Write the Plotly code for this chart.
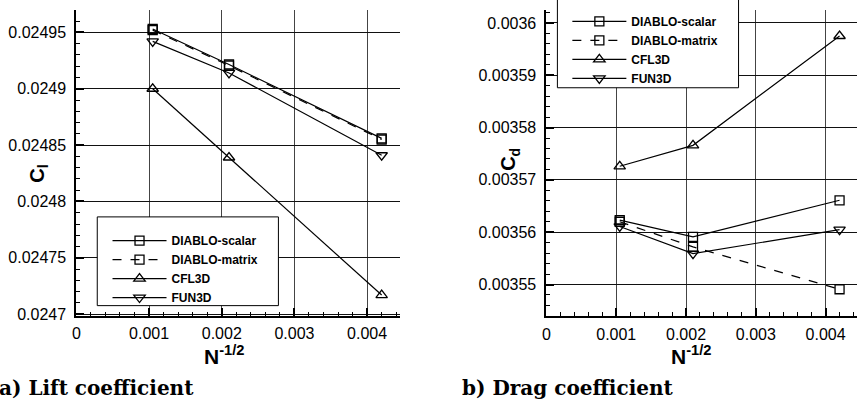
import plotly.graph_objects as go

W, H = 857, 406

# Grid resolution parameter N^-1/2 for the three meshes
n_inv_sqrt = [0.00105, 0.0021, 0.0042]

# Lift coefficient
cl_diablo_scalar = [0.024953, 0.0249215, 0.024856]
cl_diablo_matrix = [0.024952, 0.0249205, 0.024855]
cl_cfl3d = [0.024900, 0.024839, 0.024717]
cl_fun3d = [0.024942, 0.024914, 0.024841]

# Drag coefficient
cd_diablo_scalar = [0.0035623, 0.0035591, 0.0035661]
cd_diablo_matrix = [0.0035620, 0.0035572, 0.0035491]
cd_cfl3d = [0.0035726, 0.0035766, 0.0035975]
cd_fun3d = [0.0035611, 0.0035559, 0.0035605]

series_names = ["DIABLO-scalar", "DIABLO-matrix", "CFL3D", "FUN3D"]
series_dash = ["solid", "dash", "solid", "solid"]
series_symbol = ["square-open", "square-open", "triangle-up-open", "triangle-down-open"]
series_size = [9, 9, 10, 10]

x_tickvals = [0, 0.001, 0.002, 0.003, 0.004]
x_ticktext = ["0", "0.001", "0.002", "0.003", "0.004"]
cl_tickvals = [0.0247, 0.02475, 0.0248, 0.02485, 0.0249, 0.02495]
cl_ticktext = ["0.0247", "0.02475", "0.0248", "0.02485", "0.0249", "0.02495"]
cd_tickvals = [0.00355, 0.00356, 0.00357, 0.00358, 0.00359, 0.0036]
cd_ticktext = ["0.00355", "0.00356", "0.00357", "0.00358", "0.00359", "0.0036"]

cl_data = [cl_diablo_scalar, cl_diablo_matrix, cl_cfl3d, cl_fun3d]
cd_data = [cd_diablo_scalar, cd_diablo_matrix, cd_cfl3d, cd_fun3d]


def px(x):
    return x / W


def py(y):
    return 1 - y / H


fig = go.Figure()

for i, name in enumerate(series_names):
    common = dict(
        mode="lines+markers",
        name=name,
        line=dict(color="black", width=1.2, dash=series_dash[i]),
        marker=dict(symbol=series_symbol[i], size=series_size[i], color="black",
                    line=dict(color="black", width=1.3)),
        cliponaxis=False,
    )
    fig.add_trace(go.Scatter(x=n_inv_sqrt, y=cl_data[i], xaxis="x", yaxis="y",
                             legend="legend", **common))
    fig.add_trace(go.Scatter(x=n_inv_sqrt, y=cd_data[i], xaxis="x2", yaxis="y2",
                             legend="legend2", **common))

tick_font = dict(family="Liberation Sans, Arial, sans-serif", size=16, color="black")

xcommon = dict(
    range=[0, 0.00445],
    tickmode="array", tickvals=x_tickvals, ticktext=x_ticktext,
    ticks="inside", ticklen=8, tickwidth=1.5, tickcolor="black",
    showline=True, linecolor="black", linewidth=2,
    showgrid=True, gridcolor="#444444", gridwidth=1,
    zeroline=False, tickfont=tick_font, ticklabelstandoff=2,
    minor=dict(tickmode="linear", tick0=0, dtick=0.0002, ticks="inside",
               ticklen=4, tickwidth=1, tickcolor="black", showgrid=False),
)
ycommon = dict(
    tickmode="array",
    ticks="inside", ticklen=8, tickwidth=1.5, tickcolor="black",
    showline=True, linecolor="black", linewidth=2,
    showgrid=True, gridcolor="#111111", gridwidth=1,
    zeroline=False, tickfont=tick_font, ticklabelstandoff=5,
)

fig.update_layout(
    width=W, height=H,
    margin=dict(l=0, r=0, t=0, b=0),
    paper_bgcolor="white", plot_bgcolor="white",
    xaxis=dict(domain=[px(72.7), px(397.7)], anchor="y", **xcommon),
    yaxis=dict(domain=[py(321.7), py(10)], anchor="x",
               range=[0.0246983, 0.024970],
               tickvals=cl_tickvals, ticktext=cl_ticktext,
               minor=dict(tickmode="linear", tick0=0.0247, dtick=0.00001, ticks="inside",
                          ticklen=4, tickwidth=1, tickcolor="black", showgrid=False),
               **ycommon),
    xaxis2=dict(domain=[px(545), 1.0], anchor="y2", **xcommon),
    yaxis2=dict(domain=[py(322), py(10)], anchor="x2",
                range=[0.0035439, 0.0036025],
                tickvals=cd_tickvals, ticktext=cd_ticktext,
                minor=dict(tickmode="linear", tick0=0.00355, dtick=0.000002, ticks="inside",
                           ticklen=4, tickwidth=1, tickcolor="black", showgrid=False),
                **ycommon),
    showlegend=True,
)

legend_font = dict(family="Liberation Sans, Arial, sans-serif", size=12, color="black",
                   weight="bold")
legend_common = dict(
    xanchor="left", yanchor="top",
    bgcolor="rgba(0,0,0,0)", borderwidth=0,
    font=legend_font, itemwidth=54, tracegroupgap=0,
)
fig.update_layout(
    legend=dict(x=px(104), y=py(230), **legend_common),
    legend2=dict(x=px(566), y=py(7), **legend_common),
)

# Legend frames
fig.add_shape(type="rect", xref="paper", yref="paper",
              x0=px(93.7), x1=px(275.7), y0=py(311), y1=py(220.7),
              line=dict(color="black", width=1), fillcolor="white", layer="above")
fig.add_shape(type="rect", xref="paper", yref="paper",
              x0=px(556), x1=px(738), y0=py(89.3), y1=py(-2),
              line=dict(color="black", width=1), fillcolor="white", layer="above")

title_font = dict(family="Liberation Sans, Arial, sans-serif", size=21, color="black")
caption_font = dict(family="DejaVu Serif, serif", size=20, color="black")

annotations = [
    dict(text="<b>C<sub>l</sub></b>", x=px(35), y=py(177), textangle=-90,
         font=dict(family=title_font["family"], size=20, color="black")),
    dict(text="<b>C<sub>d</sub></b>", x=px(508), y=py(162), textangle=-90,
         font=dict(family=title_font["family"], size=20, color="black")),
    dict(text="<b>N<sup>-1/2</sup></b>", x=px(221), y=py(361), font=title_font),
    dict(text="<b>N<sup>-1/2</sup></b>", x=px(690), y=py(361), font=title_font),
    dict(text="<b>a) Lift coefficient</b>", x=px(-7.5), y=py(395), xanchor="left",
         font=caption_font),
    dict(text="<b>b) Drag coefficient</b>", x=px(458), y=py(395), xanchor="left",
         font=caption_font),
]
for a in annotations:
    a.setdefault("xanchor", "center")
    fig.add_annotation(xref="paper", yref="paper", yanchor="middle",
                       showarrow=False, **a)

fig.write_html("out.html")
